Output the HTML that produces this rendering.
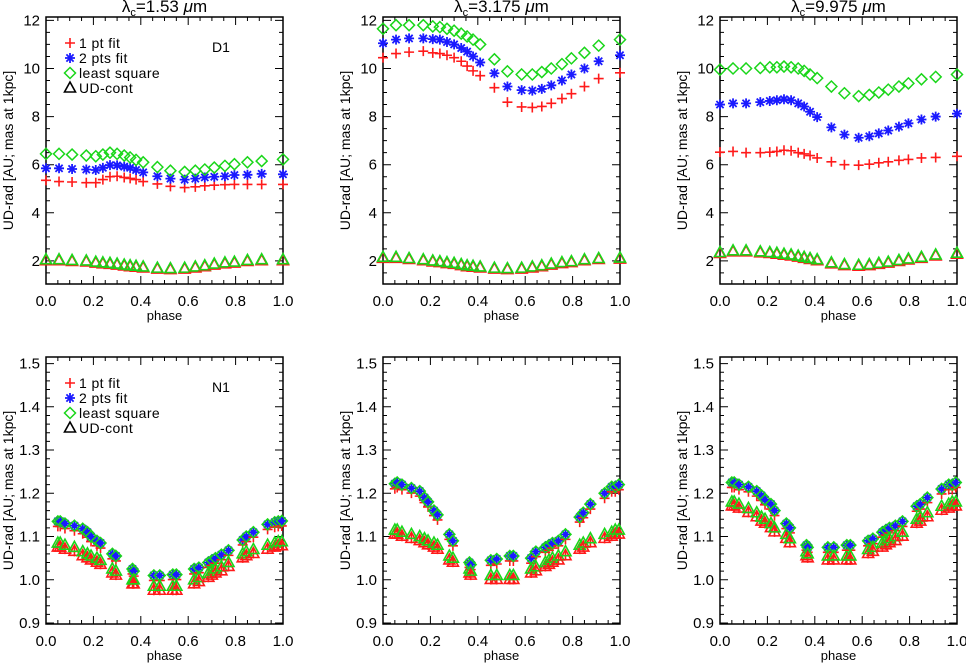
<!DOCTYPE html>
<html><head><meta charset="utf-8"><style>
html,body{margin:0;padding:0;background:#fff;}
svg{display:block;font-family:"Liberation Sans",sans-serif;}
</style></head><body>
<svg id="chart" width="966" height="663" viewBox="0 0 966 663" xmlns="http://www.w3.org/2000/svg"></svg>
<script>
// ---- data ----
const topPhase=[0,0.055,0.11,0.17,0.21,0.24,0.27,0.30,0.33,0.355,0.38,0.41,0.47,0.525,0.585,0.63,0.67,0.71,0.755,0.795,0.85,0.91,1.0];
const top1Plus=[5.35,5.3,5.28,5.25,5.25,5.38,5.5,5.52,5.47,5.43,5.38,5.3,5.2,5.1,5.05,5.08,5.12,5.15,5.17,5.18,5.18,5.18,5.18];
const top1Star=[5.85,5.85,5.82,5.8,5.78,5.87,5.98,5.97,5.92,5.87,5.78,5.68,5.52,5.42,5.38,5.42,5.47,5.5,5.52,5.57,5.58,5.62,5.6];
const top1Diam=[6.45,6.45,6.42,6.38,6.35,6.42,6.5,6.45,6.38,6.3,6.2,6.1,5.9,5.75,5.7,5.75,5.8,5.88,5.95,6.02,6.1,6.15,6.22];
const top1Tri=[2.05,2.05,2.02,2.0,1.95,1.92,1.9,1.87,1.83,1.8,1.78,1.75,1.7,1.68,1.7,1.75,1.8,1.87,1.92,1.95,2.02,2.05,2.05];
const top2Plus=[10.45,10.62,10.68,10.72,10.65,10.62,10.55,10.45,10.3,10.1,9.9,9.7,9.2,8.6,8.4,8.38,8.42,8.55,8.75,8.95,9.25,9.58,9.82];
const top2Star=[11.05,11.2,11.25,11.25,11.22,11.2,11.1,11.0,10.85,10.7,10.5,10.25,9.8,9.25,9.1,9.08,9.15,9.3,9.5,9.75,10.0,10.3,10.55];
const top2Diam=[11.65,11.8,11.8,11.8,11.75,11.72,11.65,11.57,11.45,11.33,11.2,11.0,10.38,9.88,9.75,9.75,9.85,10.0,10.18,10.42,10.65,10.95,11.2];
const top2Tri=[2.15,2.15,2.1,2.05,2.0,1.97,1.93,1.9,1.85,1.8,1.78,1.75,1.7,1.68,1.7,1.75,1.8,1.87,1.93,1.97,2.05,2.1,2.12];
const top3Plus=[6.52,6.55,6.5,6.5,6.52,6.55,6.6,6.58,6.5,6.45,6.38,6.28,6.12,6.0,5.98,6.02,6.08,6.12,6.18,6.22,6.28,6.3,6.35];
const top3Star=[8.5,8.55,8.55,8.6,8.65,8.68,8.72,8.68,8.55,8.42,8.2,7.98,7.55,7.25,7.12,7.18,7.3,7.42,7.58,7.72,7.88,8.0,8.12];
const top3Diam=[9.95,10.0,10.0,10.02,10.05,10.05,10.08,10.05,10.0,9.9,9.75,9.6,9.25,8.97,8.85,8.9,9.0,9.12,9.25,9.38,9.55,9.65,9.75];
const top3Tri=[2.35,2.42,2.42,2.38,2.35,2.32,2.28,2.25,2.2,2.15,2.1,2.05,1.92,1.85,1.82,1.85,1.9,1.95,2.02,2.08,2.15,2.25,2.32];
const botPhase=[0.05,0.06,0.08,0.12,0.155,0.175,0.19,0.215,0.23,0.28,0.295,0.365,0.37,0.455,0.48,0.535,0.55,0.625,0.645,0.685,0.7,0.715,0.74,0.77,0.83,0.845,0.875,0.935,0.965,0.98,0.995];
const bot1Star=[1.135,1.135,1.13,1.125,1.118,1.11,1.1,1.09,1.085,1.06,1.055,1.025,1.02,1.01,1.01,1.012,1.012,1.025,1.028,1.04,1.045,1.05,1.058,1.068,1.092,1.1,1.11,1.128,1.133,1.135,1.136];
const bot1Tri=[1.085,1.085,1.08,1.075,1.065,1.06,1.055,1.05,1.045,1.025,1.02,1.0,1.0,0.985,0.985,0.985,0.985,1.0,1.005,1.015,1.02,1.025,1.03,1.04,1.06,1.065,1.07,1.08,1.085,1.088,1.088];
const bot2Star=[1.222,1.225,1.22,1.212,1.205,1.19,1.18,1.16,1.15,1.105,1.09,1.04,1.035,1.045,1.048,1.055,1.055,1.05,1.065,1.075,1.08,1.085,1.09,1.105,1.145,1.155,1.175,1.2,1.215,1.215,1.22];
const bot2Tri=[1.115,1.115,1.11,1.105,1.1,1.095,1.09,1.085,1.08,1.055,1.05,1.025,1.02,1.01,1.01,1.01,1.01,1.025,1.03,1.04,1.045,1.05,1.055,1.065,1.08,1.085,1.095,1.105,1.11,1.115,1.115];
const bot3Star=[1.225,1.225,1.22,1.215,1.205,1.195,1.185,1.175,1.16,1.13,1.12,1.08,1.075,1.075,1.075,1.08,1.08,1.09,1.095,1.11,1.115,1.12,1.125,1.135,1.17,1.175,1.19,1.21,1.22,1.22,1.225];
const bot3Tri=[1.18,1.18,1.175,1.165,1.155,1.145,1.14,1.13,1.12,1.105,1.095,1.065,1.06,1.055,1.055,1.055,1.055,1.07,1.075,1.085,1.09,1.095,1.1,1.11,1.14,1.145,1.155,1.17,1.175,1.18,1.18];
const xTicks=["0.0","0.2","0.4","0.6","0.8","1.0"];
const topYTicks=["2","4","6","8","10","12"];
const botYTicks=["0.9","1.0","1.1","1.2","1.3","1.4","1.5"];
const titles=["1.53","3.175","9.975"];

// ---- drawing ----
const NS="http://www.w3.org/2000/svg";
const svg=document.getElementById('chart');
function el(tag,attrs,parent){const e=document.createElementNS(NS,tag);for(const k in attrs)e.setAttribute(k,attrs[k]);(parent||svg).appendChild(e);return e;}
const RED="#ff1a1a",BLUE="#1a1aff",GREEN="#1ad61a";
function plus(g,x,y,c){el('path',{d:`M${x-5} ${y}h10M${x} ${y-5}v10`,stroke:c,'stroke-width':1.6,fill:'none'},g);}
function star(g,x,y,c){el('path',{d:`M${x-5} ${y}h10M${x} ${y-5}v10M${x-3.6} ${y-3.6}l7.2 7.2M${x-3.6} ${y+3.6}l7.2 -7.2`,stroke:c,'stroke-width':1.8,fill:'none'},g);}
function diam(g,x,y,c){el('path',{d:`M${x} ${y-5.5}L${x+5.5} ${y}L${x} ${y+5.5}L${x-5.5} ${y}Z`,stroke:c,'stroke-width':1.5,fill:'none'},g);}
function tri(g,x,y,c){el('path',{d:`M${x} ${y-6}L${x+5.5} ${y+4}L${x-5.5} ${y+4}Z`,stroke:c,'stroke-width':1.6,fill:'none'},g);}

const cols=[46,383,720], W=237;
function panel(ci,isTop){
  const x0=cols[ci], x1=x0+W;
  const yT=isTop?17:357, yB=isTop?284:624;
  const ymin=isTop?1.04:0.8977, ymax=isTop?12.14:1.5152;
  const sx=p=>x0+p*W, sy=v=>yB-(v-ymin)/(ymax-ymin)*(yB-yT);
  const g=el('g',{});
  
  
  const tk=el('g',{stroke:'#000','stroke-width':1},g);
  for(let i=0;i<=20;i++){const x=sx(i/20),L=i%4==0?8:4;el('path',{d:`M${x} ${yB}v${-L}M${x} ${yT}v${L}`},tk);}
  const yMinorStep=isTop?0.5:0.02, yMajor=isTop?2:0.1;
  const start=Math.ceil(ymin/yMinorStep-1e-6);
  for(let k=start;k*yMinorStep<=ymax+1e-9;k++){const v=k*yMinorStep,y=sy(v);const maj=Math.abs(v/yMajor-Math.round(v/yMajor))<1e-6;const L=maj?8:4;el('path',{d:`M${x0} ${y}h${L}M${x1} ${y}h${-L}`},tk);}
  el('rect',{x:x0,y:yT,width:W,height:yB-yT,fill:'none',stroke:'#000','stroke-width':1.5},g);
  xTicks.forEach((t,i)=>{const tx=el('text',{x:sx(i*0.2),y:yB+22,'font-size':15,'text-anchor':'middle'},g);tx.textContent=t;});
  const yt=isTop?topYTicks:botYTicks;
  yt.forEach(t=>{const tx=el('text',{x:x0-6,y:sy(parseFloat(t))+5,'font-size':15,'text-anchor':'end'},g);tx.textContent=t;});
  const xl=el('text',{x:x0+W/2,y:yB+36,'font-size':13,'text-anchor':'middle'},g);xl.textContent='phase';
  
  
  const cy=(yT+yB)/2, lx=x0-33;
  const yl=el('text',{x:lx,y:cy,'font-size':14,'text-anchor':'middle',transform:`rotate(-90 ${lx} ${cy})`},g);yl.textContent='UD-rad [AU; mas at 1kpc]';
  
  
  if(isTop){
    const t=el('text',{x:x0+W/2,y:12,'font-size':17,'text-anchor':'middle'},g);
    
    
    t.innerHTML=`λ<tspan font-size="11" dy="4">c</tspan><tspan dy="-4">=${titles[ci]}  </tspan><tspan font-style="italic">μ</tspan>m`;
  }
  const mg=el('g',{},g);
  
  
  if(isTop){
    const P=[top1Plus,top2Plus,top3Plus][ci],S=[top1Star,top2Star,top3Star][ci],D=[top1Diam,top2Diam,top3Diam][ci],T=[top1Tri,top2Tri,top3Tri][ci];
    topPhase.forEach((p,i)=>{const x=sx(p);
      tri(mg,x,sy(T[i])+1,RED);tri(mg,x,sy(T[i]),GREEN);
      plus(mg,x,sy(P[i]),RED);star(mg,x,sy(S[i]),BLUE);diam(mg,x,sy(D[i]),GREEN);});
  } else {
    const S=[bot1Star,bot2Star,bot3Star][ci],T=[bot1Tri,bot2Tri,bot3Tri][ci];
    botPhase.forEach((p,i)=>{const x=sx(p);
      plus(mg,x,sy(S[i])+5,RED);star(mg,x,sy(S[i]),BLUE);diam(mg,x,sy(S[i]),GREEN);
      plus(mg,x,sy(T[i])+4,RED);tri(mg,x,sy(T[i])+4,RED);tri(mg,x,sy(T[i]),GREEN);});
  }
  if(ci==0){
    const lg=el('g',{'font-size':14,'letter-spacing':0.4},g);
    
    
    const labels=['1  pt  fit','2  pts  fit','least  square','UD-cont'];
    const fns=[plus,star,diam,tri],cs=[RED,BLUE,GREEN,'#000'];
    labels.forEach((l,i)=>{const y=yT+26+i*15;fns[i](lg,x0+24,y,cs[i]);
      const t=el('text',{x:x0+33,y:y+5,'xml:space':'preserve'},lg);t.textContent=l;
      
      });
    const d=el('text',{x:x0+166,y:yT+35,'font-size':14},g);d.textContent=isTop?'D1':'N1';
    
    
  }
}
for(let c=0;c<3;c++){panel(c,true);panel(c,false);}
</script>
</body></html>
